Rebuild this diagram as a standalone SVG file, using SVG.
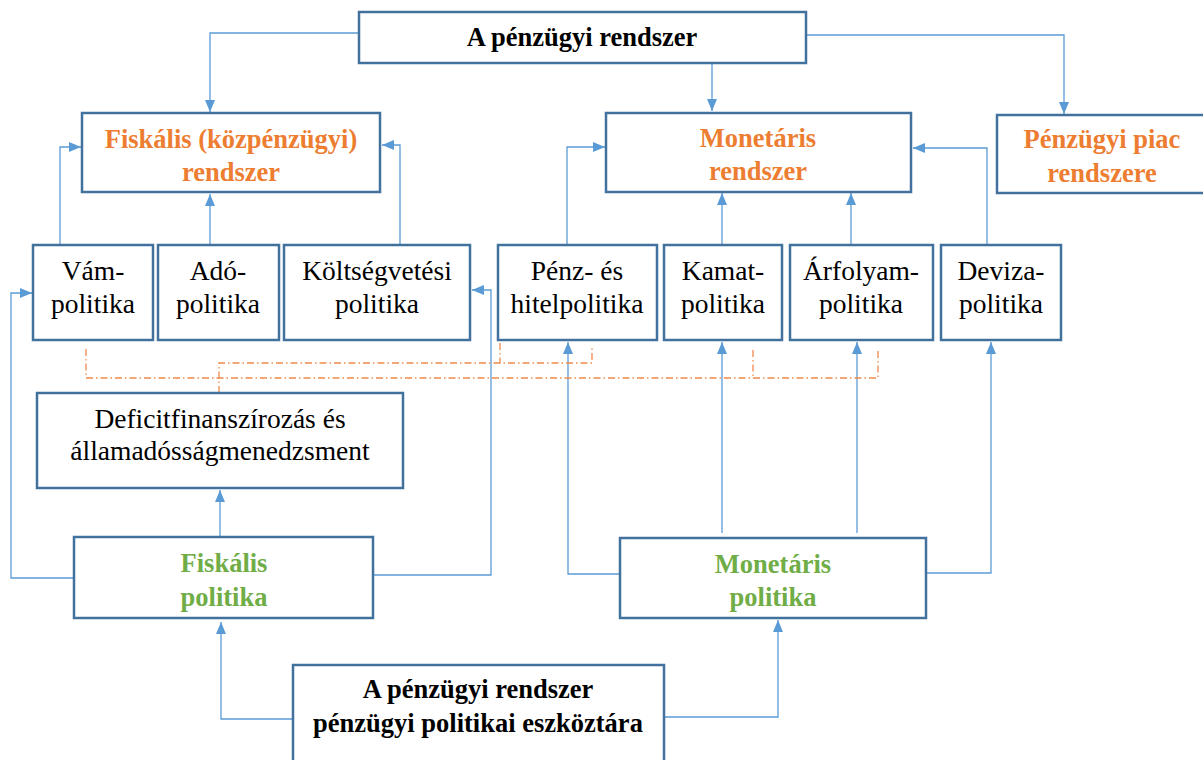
<svg xmlns="http://www.w3.org/2000/svg" width="1203" height="760" viewBox="0 0 1203 760">
<style>
.box{fill:#fff;stroke:#41719C;stroke-width:2.5}
.t{font-family:"Liberation Serif","Times New Roman",serif;font-size:27.5px;text-anchor:middle;fill:#000}
.b{font-weight:bold;font-size:26.5px}
.o{fill:#ED7D31}
.g{fill:#70AD47}
.c{fill:none;stroke:#5B9BD5;stroke-width:1.3;marker-end:url(#ah)}
.d{fill:none;stroke:#F08A4B;stroke-width:1.3;stroke-dasharray:7,3,1.5,3}
</style>
<defs>
<marker id="ah" viewBox="0 0 12 10" refX="12" refY="5" markerWidth="12" markerHeight="10" markerUnits="userSpaceOnUse" orient="auto">
<path d="M0,0 L12,5 L0,10 z" fill="#5B9BD5"/>
</marker>
</defs>
<g id="connectors">
<path class="c" d="M358 33 H210 V112"/>
<path class="c" d="M712 63 V111"/>
<path class="c" d="M806 35 H1064 V114"/>
<path class="c" d="M60 245 V147 H81"/>
<path class="c" d="M210 245 V194"/>
<path class="c" d="M400 245 V145 H382"/>
<path class="c" d="M567 245 V147 H605"/>
<path class="c" d="M722 245 V193"/>
<path class="c" d="M851 245 V193"/>
<path class="c" d="M987 245 V148 H913"/>
<path class="c" d="M220 537 V490"/>
<path class="c" d="M74 578 H11 V293 H32"/>
<path class="c" d="M373 575 H491 V290 H472"/>
<path class="c" d="M620 574 H568 V342"/>
<path class="c" d="M722 533 V342"/>
<path class="c" d="M857 533 V342"/>
<path class="c" d="M926 573 H991 V342"/>
<path class="c" d="M293 719 H221 V622"/>
<path class="c" d="M664 717 H778 V620"/>
<path class="d" d="M86 349 V378 H878 V351"/>
<path class="d" d="M753 350 V378"/>
<path class="d" d="M219 393 V363 H592 V347"/>
<path class="d" d="M500 343 V363"/>
</g>
<g id="top">
<rect class="box" x="359" y="12" width="447" height="51"/>
<text class="t b" x="582" y="46">A pénzügyi rendszer</text>
</g>
<g id="fiskalis-rendszer">
<rect class="box" x="82" y="113" width="298" height="79"/>
<text class="t b o" x="231" y="148">Fiskális (közpénzügyi)</text>
<text class="t b o" x="231" y="181">rendszer</text>
</g>
<g id="monetaris-rendszer">
<rect class="box" x="606" y="113" width="305" height="79"/>
<text class="t b o" x="758" y="147">Monetáris</text>
<text class="t b o" x="758" y="180">rendszer</text>
</g>
<g id="penzugyi-piac">
<rect class="box" x="997" y="115" width="212" height="78"/>
<text class="t b o" x="1102" y="148">Pénzügyi piac</text>
<text class="t b o" x="1102" y="182">rendszere</text>
</g>
<g id="vam">
<rect class="box" x="33" y="245" width="120" height="95"/>
<text class="t" x="93" y="280">Vám-</text>
<text class="t" x="93" y="313">politika</text>
</g>
<g id="ado">
<rect class="box" x="158" y="245" width="121" height="95"/>
<text class="t" x="218" y="280">Adó-</text>
<text class="t" x="218" y="313">politika</text>
</g>
<g id="koltsegvetesi">
<rect class="box" x="284" y="245" width="186" height="95"/>
<text class="t" x="377" y="280">Költségvetési</text>
<text class="t" x="377" y="313">politika</text>
</g>
<g id="penz">
<rect class="box" x="498" y="245" width="159" height="95"/>
<text class="t" x="577" y="280">Pénz- és</text>
<text class="t" x="577" y="313">hitelpolitika</text>
</g>
<g id="kamat">
<rect class="box" x="664" y="245" width="118" height="95"/>
<text class="t" x="723" y="280">Kamat-</text>
<text class="t" x="723" y="313">politika</text>
</g>
<g id="arfolyam">
<rect class="box" x="790" y="245" width="143" height="95"/>
<text class="t" x="861" y="280">Árfolyam-</text>
<text class="t" x="861" y="313">politika</text>
</g>
<g id="deviza">
<rect class="box" x="941" y="245" width="120" height="95"/>
<text class="t" x="1001" y="280">Deviza-</text>
<text class="t" x="1001" y="313">politika</text>
</g>
<g id="deficit">
<rect class="box" x="37" y="393" width="366" height="95"/>
<text class="t" x="220" y="428">Deficitfinanszírozás és</text>
<text class="t" x="220" y="460">államadósságmenedzsment</text>
</g>
<g id="fiskalis-politika">
<rect class="box" x="74" y="537" width="299" height="81"/>
<text class="t b g" x="224" y="572">Fiskális</text>
<text class="t b g" x="224" y="606">politika</text>
</g>
<g id="monetaris-politika">
<rect class="box" x="620" y="538" width="306" height="80"/>
<text class="t b g" x="773" y="573">Monetáris</text>
<text class="t b g" x="773" y="606">politika</text>
</g>
<g id="eszkoztar">
<rect class="box" x="293" y="665" width="371" height="110"/>
<text class="t b" x="478" y="698">A pénzügyi rendszer</text>
<text class="t b" x="478" y="732">pénzügyi politikai eszköztára</text>
</g>
</svg>
